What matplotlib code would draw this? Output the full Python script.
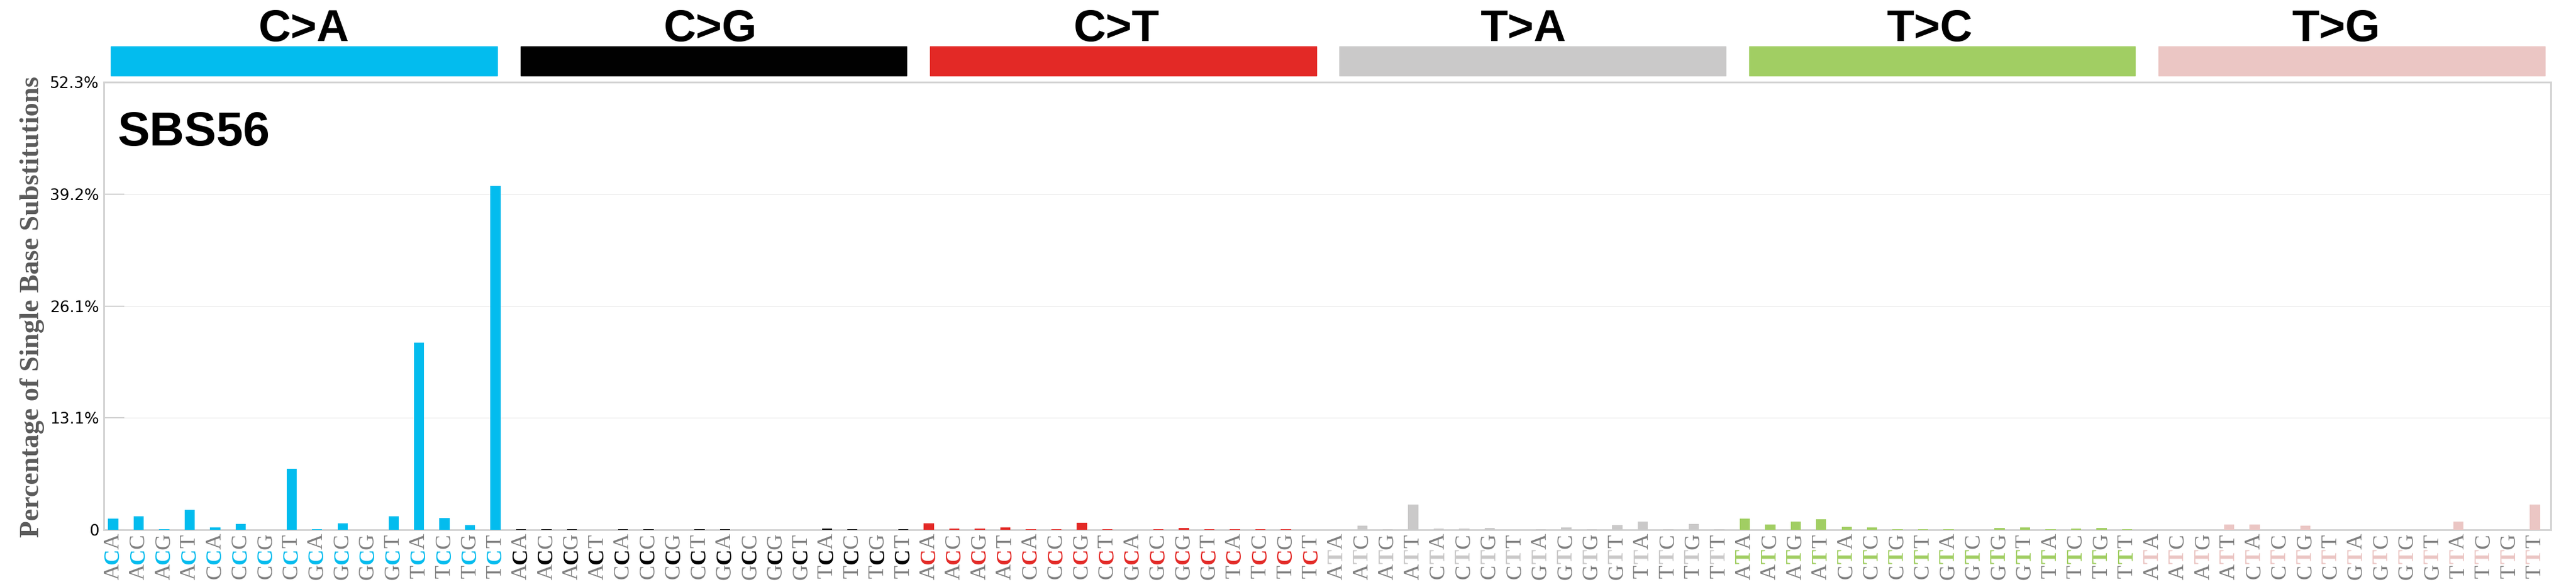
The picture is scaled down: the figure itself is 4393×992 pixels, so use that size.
import matplotlib
matplotlib.use('Agg')
import matplotlib.pyplot as plt
from matplotlib.patches import Rectangle
from matplotlib import transforms

W, H = 4393, 992

mut_types = ['C>A', 'C>G', 'C>T', 'T>A', 'T>C', 'T>G']
mut_colors = ['#03BCEE', '#010101', '#E32926', '#CAC9C9', '#A1CE63', '#EBC6C4']
five_prime = ['A'] * 4 + ['C'] * 4 + ['G'] * 4 + ['T'] * 4
three_prime = ['A', 'C', 'G', 'T'] * 4

# percentages per mutation class, 16 trinucleotide contexts each
ca = [1.28, 1.55, 0.05, 2.31, 0.25, 0.66, 0.0, 7.1, 0.05, 0.73, 0.0, 1.55, 21.9, 1.35, 0.53, 40.2]
cg = [0.07, 0.07, 0.07, 0.0, 0.07, 0.07, 0.0, 0.07, 0.07, 0.0, 0.0, 0.0, 0.12, 0.07, 0.0, 0.07]
ct = [0.73, 0.14, 0.14, 0.27, 0.07, 0.07, 0.8, 0.07, 0.0, 0.07, 0.18, 0.07, 0.07, 0.07, 0.07, 0.0]
ta = [0.0, 0.46, 0.05, 2.92, 0.11, 0.11, 0.18, 0.0, 0.05, 0.25, 0.05, 0.53, 0.94, 0.05, 0.66, 0.05]
tc = [1.28, 0.59, 0.94, 1.21, 0.32, 0.25, 0.07, 0.07, 0.07, 0.0, 0.18, 0.25, 0.05, 0.11, 0.18, 0.05]
tg = [0.0, 0.0, 0.0, 0.59, 0.59, 0.0, 0.46, 0.0, 0.0, 0.0, 0.0, 0.0, 0.94, 0.0, 0.0, 2.92]
series = [ca, cg, ct, ta, tc, tg]

ytick_vals = [0, 13.075, 26.15, 39.225, 52.3]
ytick_labels = ['0', '13.1%', '26.1%', '39.2%', '52.3%']
sig_name = 'SBS56'

fig = plt.figure(figsize=(W / 100, H / 100), dpi=100)
ax = fig.add_axes([177 / W, (H - 903) / H, (4350 - 177) / W, (903 - 140) / H])

for k in range(6):
    xs = [16 * k + j for j in range(16)]
    ax.bar(xs, series[k], width=0.4, color=mut_colors[k], zorder=3)

ax.set_xlim(-0.368, 95.62)
ax.set_ylim(0, 52.3)
ax.set_xticks([])
ax.set_yticks(ytick_vals)
ax.set_yticklabels(ytick_labels, fontsize=19, family='DejaVu Sans')
ax.tick_params(axis='y', direction='in', length=25, width=1.5, color='#d0d0d0', pad=6)
ax.yaxis.grid(True, color='#ebebeb', lw=1)
ax.set_axisbelow(True)
for s in ax.spines.values():
    s.set_color('#d3d3d3')
    s.set_linewidth(2.2)

# colored category bands above the axes
band = transforms.blended_transform_factory(ax.transAxes, fig.transFigure)
for k in range(6):
    x0 = 0.00297 + 0.16734 * k
    ax.add_patch(Rectangle((x0, (H - 128.7) / H), 0.15782, 49.7 / H,
                           transform=band, color=mut_colors[k], clip_on=False))
    fig.text(0.0817 + 0.1661 * k, (H - 70) / H, mut_types[k], transform=band,
             fontsize=55, weight='bold', family='Liberation Sans',
             ha='center', va='baseline')

# trinucleotide labels, rotated, middle base coloured
lab = transforms.blended_transform_factory(ax.transData, fig.transFigure)
for k in range(6):
    ref = mut_types[k][0]
    for j in range(16):
        x = 16 * k + j
        fig.text(x, 17.5 / H, five_prime[j], transform=lab, rotation=90,
                 ha='center', va='center', fontsize=27, family='Liberation Serif',
                 color='grey')
        fig.text(x, 43.5 / H, ref, transform=lab, rotation=90,
                 ha='center', va='center', fontsize=27, family='Liberation Serif',
                 weight='bold', color=mut_colors[k])
        fig.text(x, 69.5 / H, three_prime[j], transform=lab, rotation=90,
                 ha='center', va='center', fontsize=27, family='Liberation Serif',
                 color='grey')

fig.text(201 / W, (H - 248) / H, sig_name, fontsize=59, weight='bold',
         family='Liberation Sans', ha='left', va='baseline')
fig.text(55 / W, (H - 523) / H, 'Percentage of Single Base Substitutions',
         rotation=90, ha='center', va='center', fontsize=33.75,
         family='Liberation Serif', weight='bold', color='#5a5a5a')

fig.savefig('out.png', dpi=100)
